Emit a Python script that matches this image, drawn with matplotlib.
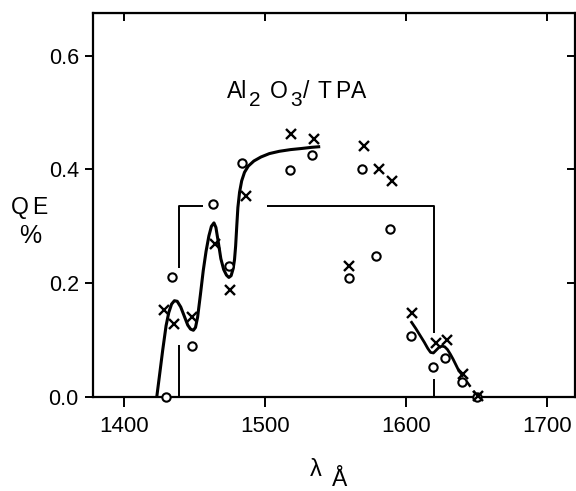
import numpy as np
import matplotlib
matplotlib.use("Agg")
import matplotlib.pyplot as plt

plt.rcParams['font.family'] = ['Liberation Sans', 'DejaVu Sans']

# measured points (x = crosses, o = circles)
cross_x = [1428, 1435, 1448, 1464.5, 1475, 1486.5, 1518, 1535, 1559.5, 1570.5,
           1581, 1590, 1604, 1621, 1629.5, 1640.5, 1651]
cross_y = [0.153, 0.128, 0.140, 0.269, 0.188, 0.354, 0.463, 0.453, 0.230, 0.442,
           0.400, 0.379, 0.147, 0.095, 0.100, 0.040, 0.002]

circ_x = [1429.5, 1433.5, 1448, 1463, 1474.5, 1483.5, 1517.5, 1533.5, 1559.5, 1569,
          1578.5, 1588.5, 1603.5, 1619.5, 1628, 1640, 1650.5]
circ_y = [0.0, 0.210, 0.089, 0.340, 0.230, 0.411, 0.399, 0.426, 0.209, 0.401,
          0.248, 0.296, 0.107, 0.053, 0.068, 0.026, 0.0]

# hand drawn curve, left part
curve1_x = [1423.0, 1424.8, 1427.2, 1429.6, 1431.5, 1433.5, 1435.5, 1437.5, 1440.0,
            1442.5, 1445.0, 1447.0, 1449.0, 1450.5, 1452.0, 1454.0, 1456.0, 1458.0,
            1460.0, 1461.8, 1463.6, 1465.0, 1466.5, 1468.5, 1470.5, 1472.5, 1474.2,
            1475.8, 1477.2, 1478.2, 1479.0, 1479.8, 1480.6, 1481.8, 1483.3, 1485.3,
            1488.0, 1492.0, 1497.0, 1503.0, 1510.0, 1518.0, 1526.0, 1533.0, 1538.0]
curve1_y = [0.000, 0.035, 0.082, 0.125, 0.148, 0.163, 0.169, 0.168, 0.158,
            0.142, 0.126, 0.119, 0.117, 0.122, 0.140, 0.180, 0.222, 0.256,
            0.283, 0.300, 0.306, 0.298, 0.275, 0.243, 0.224, 0.214, 0.210,
            0.213, 0.225, 0.241, 0.265, 0.300, 0.333, 0.360, 0.380, 0.395,
            0.406, 0.415, 0.422, 0.428, 0.432, 0.435, 0.437, 0.439, 0.440]

# hand drawn curve, right part
curve2_x = [1604.0, 1607.0, 1610.0, 1613.0, 1615.5, 1617.5, 1619.5, 1621.5, 1623.5,
            1625.5, 1627.5, 1629.5, 1631.5, 1633.5, 1635.5, 1637.5]
curve2_y = [0.131, 0.120, 0.108, 0.096, 0.085, 0.078, 0.077, 0.082, 0.087,
            0.089, 0.088, 0.083, 0.075, 0.066, 0.056, 0.046]
dash_x = [1637.5, 1651.0]
dash_y = [0.046, 0.0]

# bracket (filter pass band)
brk_a_x, brk_a_y = [1438.5, 1438.5], [0.0, 0.091]
brk_b_x, brk_b_y = [1438.5, 1438.5, 1455.5], [0.226, 0.335, 0.335]
brk_c_x, brk_c_y = [1501.0, 1619.7, 1619.7], [0.335, 0.335, 0.112]
brk_d_x, brk_d_y = [1619.7, 1619.7], [0.032, 0.0]

xticks = [1400, 1500, 1600, 1700]
yticks = [0.0, 0.2, 0.4, 0.6]

W, H = 576, 491
fig = plt.figure(figsize=(W / 100, H / 100), dpi=100)
ax = fig.add_axes([0.161, 0.192, 0.8366, 0.781])

for bx, by in [(brk_a_x, brk_a_y), (brk_b_x, brk_b_y), (brk_c_x, brk_c_y), (brk_d_x, brk_d_y)]:
    ax.plot(bx, by, color='black', lw=1.4, solid_capstyle='butt')

ax.plot(curve1_x, curve1_y, color='black', lw=2.2, solid_joinstyle='round')
ax.plot(curve2_x, curve2_y, color='black', lw=2.0)
ax.plot(dash_x, dash_y, color='black', lw=1.8, linestyle=(0, (3, 2)))

ax.plot(circ_x, circ_y, linestyle='none', marker='o', ms=6, mfc='white',
        mec='black', mew=1.5, clip_on=False, zorder=5)
ax.plot(cross_x, cross_y, linestyle='none', marker='x', ms=6.5, mec='black',
        mew=1.7, clip_on=False, zorder=5)

ax.set_xlim(1377.5, 1719.8)
ax.set_ylim(0, 0.675)
ax.set_xticks(xticks)
ax.set_yticks(yticks)
ax.set_xticklabels([str(v) for v in xticks], fontsize=16)
ax.set_yticklabels(['%.1f' % v for v in yticks], fontsize=15.5)
ax.tick_params(axis='x', direction='out', length=7, width=1.4, pad=7)
ax.tick_params(axis='y', direction='out', length=6, width=1.4, pad=4)
for s in ax.spines.values():
    s.set_linewidth(1.6)

# ticks on top and right point inward
top = ax.secondary_xaxis('top')
top.set_xticks(xticks)
top.tick_params(direction='in', length=6, width=1.4, labeltop=False)
right = ax.secondary_yaxis('right')
right.set_yticks(yticks)
right.tick_params(direction='in', length=6, width=1.4, labelright=False)


def ptext(s, x, y, size, ha='left'):
    # place text by pixel position (x from left, baseline y from top)
    fig.text(x / W, 1 - y / H, s, ha=ha, va='baseline', fontsize=size)


# Al2 O3 / TPA, subscripts nearly full size as in the original lettering
ptext('Al', 226.5, 98.5, 16.5)
ptext('2', 249.5, 106.5, 15)
ptext('O', 270, 98.5, 16.5)
ptext('3', 290, 106.5, 15)
ptext('/', 303, 98.5, 16.5)
ptext('T', 318, 98.5, 16.5)
ptext('P', 335, 98.5, 16.5)
ptext('A', 351, 98.5, 16.5)

ptext('Q', 11, 213.5, 16.5)
ptext('E', 32, 213.5, 16.5)
ptext('%', 30, 243, 18, ha='center')

ptext('λ', 315.5, 476.5, 17, ha='center')
ptext('Å', 339.5, 486.5, 16.5, ha='center')

fig.savefig('out.png', dpi=100)
